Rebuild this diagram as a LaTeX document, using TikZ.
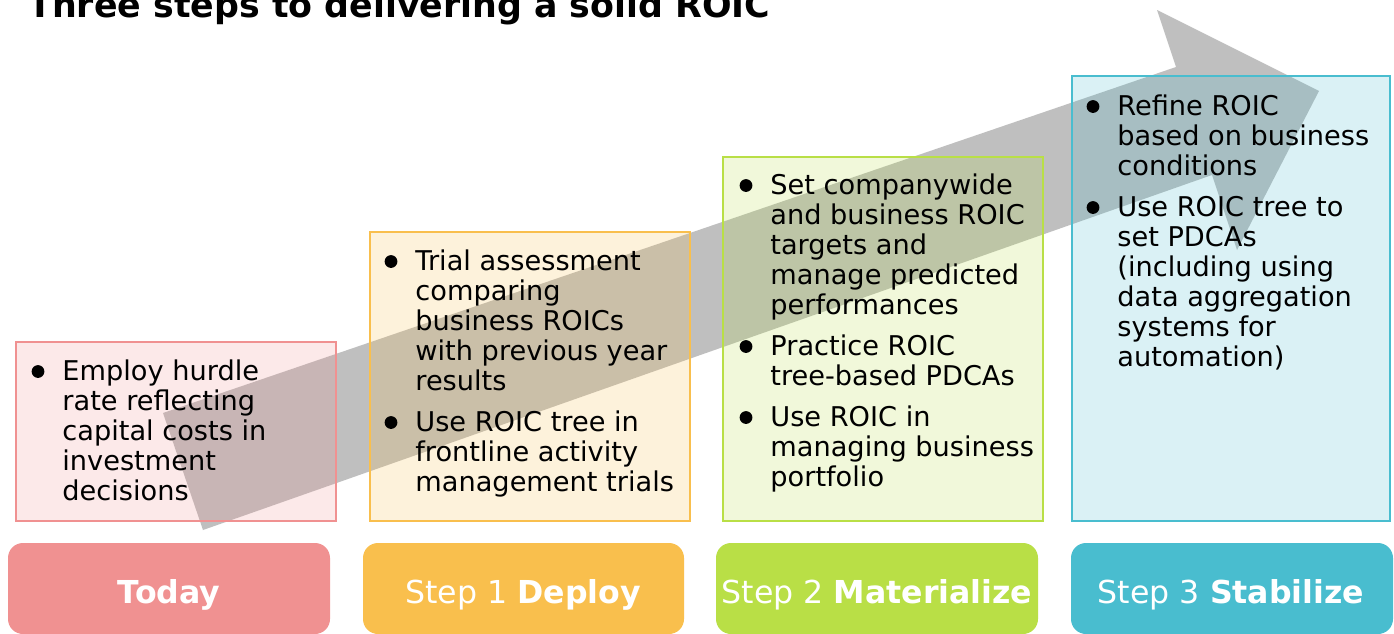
\documentclass[tikz,border=0pt]{standalone}
\usepackage{fontspec}
\setmainfont{DejaVu Sans}

\definecolor{todayc}{HTML}{F09191}
\definecolor{deployc}{HTML}{F9BF4D}
\definecolor{matc}{HTML}{B9DF46}
\definecolor{stabc}{HTML}{49BDCF}
\definecolor{arrowc}{HTML}{BFBFBF}

\begin{document}
\begin{tikzpicture}[x=0.5pt,y=-0.5pt,
  panel/.style={fill=#1, fill opacity=0.2, draw=#1, draw opacity=1, line width=1pt},
  tabshape/.style={fill=#1, rounded corners=7.5pt},
  tabtext/.style={text=white, anchor=base, inner sep=0pt,
                  font=\fontsize{15.8}{18}\selectfont},
  bullets/.style={anchor=base west, inner sep=0pt, text=black,
                  font=\fontsize{13.6}{15}\selectfont},
  dot/.style={fill=black},
]
\clip (0,0) rectangle (1394,633);
\fill[white] (0,0) rectangle (1394,633);

% big progress arrow behind the panels
\fill[arrowc] (163,413) -- (1176,67) -- (1157,10) -- (1319,91)
  -- (1237,250) -- (1212,175) -- (203,530) -- cycle;

% content panels
\path[panel=todayc]  (16,342)   rectangle (336,521);
\path[panel=deployc] (370,232)  rectangle (690,521);
\path[panel=matc]    (723,157)  rectangle (1043,521);
\path[panel=stabc]   (1072,76)  rectangle (1390,521);

% stage tabs
\fill[tabshape=todayc]  (8,543)    rectangle (330,634);
\fill[tabshape=deployc] (363,543)  rectangle (684,634);
\fill[tabshape=matc]    (716,543)  rectangle (1038,634);
\fill[tabshape=stabc]   (1071,543) rectangle (1393,634);

\node[tabtext] (tab0) at (169,603) {\textbf{Today}};
\node[tabtext] (tab1) at (523,603) {Step 1 \textbf{Deploy}};
\node[tabtext] (tab2) at (877,603) {Step 2 \textbf{Materialize}};
\node[tabtext] (tab3) at (1231,603) {Step 3 \textbf{Stabilize}};

% bullet texts
\node[bullets] (a1) at (62,380) {\begin{tabular}[t]{@{}l@{}}Employ hurdle\\rate reflecting\\capital costs in\\investment\\decisions\end{tabular}};

\node[bullets] (b1) at (415,270) {\begin{tabular}[t]{@{}l@{}}Trial assessment\\comparing\\business ROICs\\with previous year\\results\end{tabular}};
\node[bullets] (b2) at (415,431) {\begin{tabular}[t]{@{}l@{}}Use ROIC tree in\\frontline activity\\management trials\end{tabular}};

\node[bullets] (c1) at (770,194) {\begin{tabular}[t]{@{}l@{}}Set companywide\\and business ROIC\\targets and\\manage predicted\\performances\end{tabular}};
\node[bullets] (c2) at (770,355) {\begin{tabular}[t]{@{}l@{}}Practice ROIC\\tree-based PDCAs\end{tabular}};
\node[bullets] (c3) at (770,426) {\begin{tabular}[t]{@{}l@{}}Use ROIC in\\managing business\\portfolio\end{tabular}};

\node[bullets] (d1) at (1117,115) {\begin{tabular}[t]{@{}l@{}}Refine ROIC\\based on business\\conditions\end{tabular}};
\node[bullets] (d2) at (1117,216) {\begin{tabular}[t]{@{}l@{}}Use ROIC tree to\\set PDCAs\\(including using\\data aggregation\\systems for\\automation)\end{tabular}};

\foreach \n in {a1,b1,b2,c1,c2,c3,d1,d2}
  \fill[dot] ([xshift=-12pt,yshift=4.25pt]\n.base west) circle (3.2pt);

% heading
\node[anchor=base west, inner sep=0pt, font=\fontsize{17.4}{20}\selectfont\bfseries]
  (title) at (28,17) {Three steps to delivering a solid ROIC};
\end{tikzpicture}
\end{document}
